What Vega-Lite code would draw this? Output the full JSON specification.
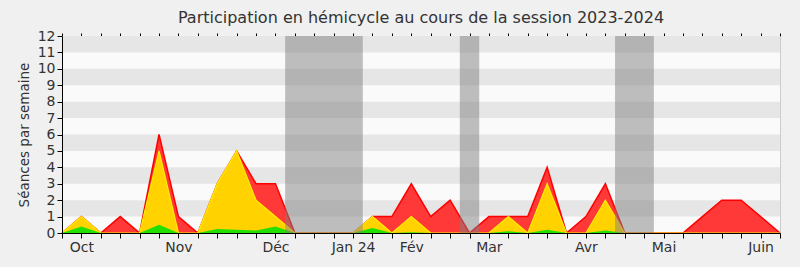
{
  "$schema": "https://vega.github.io/schema/vega-lite/v6.json",
  "width": 718,
  "height": 197,
  "autosize": {"type": "none"},
  "padding": {"left": 62, "top": 36, "right": 20, "bottom": 34},
  "background": "#f0f0f0",
  "title": {
    "text": "Participation en hémicycle au cours de la session 2023-2024",
    "font": "DejaVu Sans",
    "fontSize": 16,
    "fontWeight": "normal",
    "color": "#333333",
    "anchor": "middle",
    "offset": 3
  },
  "config": {
    "view": {"fill": "#fafafa", "stroke": null},
    "axis": {"labelFont": "DejaVu Sans", "titleFont": "DejaVu Sans", "labelColor": "#333333", "titleColor": "#333333", "grid": false, "domainColor": "#000000", "tickColor": "#000000"}
  },
  "datasets": {
    "semaines": [
      {"semaine": 0, "presence": 0, "intervention": 0, "courte": 0},
      {"semaine": 1, "presence": 1, "intervention": 1, "courte": 0.4},
      {"semaine": 2, "presence": 0, "intervention": 0, "courte": 0},
      {"semaine": 3, "presence": 1, "intervention": 0, "courte": 0},
      {"semaine": 4, "presence": 0, "intervention": 0, "courte": 0},
      {"semaine": 5, "presence": 6, "intervention": 5, "courte": 0.5},
      {"semaine": 6, "presence": 1, "intervention": 0, "courte": 0},
      {"semaine": 7, "presence": 0, "intervention": 0, "courte": 0},
      {"semaine": 8, "presence": 3, "intervention": 3, "courte": 0.25},
      {"semaine": 9, "presence": 5, "intervention": 5, "courte": 0.2},
      {"semaine": 10, "presence": 3, "intervention": 2, "courte": 0.15},
      {"semaine": 11, "presence": 3, "intervention": 1, "courte": 0.4},
      {"semaine": 12, "presence": 0, "intervention": 0, "courte": 0},
      {"semaine": 13, "presence": 0, "intervention": 0, "courte": 0},
      {"semaine": 14, "presence": 0, "intervention": 0, "courte": 0},
      {"semaine": 15, "presence": 0, "intervention": 0, "courte": 0},
      {"semaine": 16, "presence": 1, "intervention": 1, "courte": 0.3},
      {"semaine": 17, "presence": 1, "intervention": 0, "courte": 0},
      {"semaine": 18, "presence": 3, "intervention": 1, "courte": 0.05},
      {"semaine": 19, "presence": 1, "intervention": 0, "courte": 0},
      {"semaine": 20, "presence": 2, "intervention": 0, "courte": 0},
      {"semaine": 21, "presence": 0, "intervention": 0, "courte": 0},
      {"semaine": 22, "presence": 1, "intervention": 0, "courte": 0},
      {"semaine": 23, "presence": 1, "intervention": 1, "courte": 0.1},
      {"semaine": 24, "presence": 1, "intervention": 0, "courte": 0},
      {"semaine": 25, "presence": 4, "intervention": 3, "courte": 0.2},
      {"semaine": 26, "presence": 0, "intervention": 0, "courte": 0},
      {"semaine": 27, "presence": 1, "intervention": 0, "courte": 0},
      {"semaine": 28, "presence": 3, "intervention": 2, "courte": 0.15},
      {"semaine": 29, "presence": 0, "intervention": 0, "courte": 0},
      {"semaine": 30, "presence": 0, "intervention": 0, "courte": 0},
      {"semaine": 31, "presence": 0, "intervention": 0, "courte": 0},
      {"semaine": 32, "presence": 0, "intervention": 0, "courte": 0},
      {"semaine": 33, "presence": 1, "intervention": 0, "courte": 0},
      {"semaine": 34, "presence": 2, "intervention": 0, "courte": 0},
      {"semaine": 35, "presence": 2, "intervention": 0, "courte": 0},
      {"semaine": 36, "presence": 1, "intervention": 0, "courte": 0},
      {"semaine": 37, "presence": 0, "intervention": 0, "courte": 0}
    ],
    "bandes": [
      {"bas": 1, "haut": 2},
      {"bas": 3, "haut": 4},
      {"bas": 5, "haut": 6},
      {"bas": 7, "haut": 8},
      {"bas": 9, "haut": 10},
      {"bas": 11, "haut": 12}
    ],
    "vacances": [
      {"debut": 11.5, "fin": 15.5},
      {"debut": 20.5, "fin": 21.5},
      {"debut": 28.5, "fin": 30.5}
    ]
  },
  "layer": [
    {
      "data": {"name": "bandes"},
      "mark": {"type": "rect", "color": "#e6e6e6"},
      "encoding": {
        "x": {"datum": 0, "type": "quantitative", "scale": {"domain": [0, 37], "nice": false, "zero": false}, "axis": null},
        "x2": {"datum": 37},
        "y": {"field": "bas", "type": "quantitative", "scale": {"domain": [0, 12], "nice": false}, "axis": null},
        "y2": {"field": "haut"}
      }
    },
    {
      "data": {"name": "semaines"},
      "mark": {"type": "area", "color": "#ff3838", "opacity": 1, "line": {"color": "#ff0000", "strokeWidth": 1.5}},
      "encoding": {
        "x": {"field": "semaine", "type": "quantitative",
          "axis": {"title": null, "zindex": 1, "values": [0,1,2,3,4,5,6,7,8,9,10,11,12,13,14,15,16,17,18,19,20,21,22,23,24,25,26,27,28,29,30,31,32,33,34,35,36,37],
            "labelExpr": "datum.value == 1 ? 'Oct' : datum.value == 6 ? 'Nov' : datum.value == 11 ? 'Déc' : datum.value == 15 ? 'Jan 24' : datum.value == 18 ? 'Fév' : datum.value == 22 ? 'Mar' : datum.value == 27 ? 'Avr' : datum.value == 31 ? 'Mai' : datum.value == 36 ? 'Juin' : ''",
            "labelFontSize": 14, "tickSize": 5, "labelPadding": 2, "labelOverlap": false, "labelFlush": false}},
        "y": {"field": "presence", "type": "quantitative", "stack": null,
          "axis": {"title": "Séances par semaine", "zindex": 1, "titleFontSize": 13.5, "titleFontWeight": "normal", "labelFontSize": 14, "values": [0,1,2,3,4,5,6,7,8,9,10,11,12], "tickSize": 5, "titlePadding": 6, "labelPadding": 2}}
      }
    },
    {
      "data": {"name": "semaines"},
      "mark": {"type": "area", "color": "#ffd200", "opacity": 1, "line": {"color": "#ffee00", "strokeWidth": 1.2}},
      "encoding": {
        "x": {"field": "semaine", "type": "quantitative", "axis": null},
        "y": {"field": "intervention", "type": "quantitative", "stack": null, "axis": null}
      }
    },
    {
      "data": {"name": "semaines"},
      "mark": {"type": "area", "color": "#22e000", "opacity": 1},
      "encoding": {
        "x": {"field": "semaine", "type": "quantitative", "axis": null},
        "y": {"field": "courte", "type": "quantitative", "stack": null, "axis": null}
      }
    },
    {
      "data": {"name": "vacances"},
      "mark": {"type": "rect", "color": "#808080", "opacity": 0.5},
      "encoding": {
        "x": {"field": "debut", "type": "quantitative", "axis": null},
        "x2": {"field": "fin"},
        "y": {"datum": 0, "type": "quantitative", "axis": null},
        "y2": {"datum": 12}
      }
    },
    {
      "data": {"name": "vacances"},
      "mark": {"type": "rule", "opacity": 0},
      "encoding": {
        "x": {"field": "debut", "type": "quantitative",
          "axis": {"orient": "top", "title": null, "labels": false, "domain": false, "tickSize": 3, "values": [0,1,2,3,4,5,6,7,8,9,10,11,12,13,14,15,16,17,18,19,20,21,22,23,24,25,26,27,28,29,30,31,32,33,34,35,36,37]}},
        "y": {"datum": 0, "type": "quantitative",
          "axis": {"orient": "right", "title": null, "labels": false, "ticks": false, "domainColor": "#cccccc"}}
      }
    }
  ],
  "resolve": {"axis": {"x": "independent", "y": "independent"}}
}
